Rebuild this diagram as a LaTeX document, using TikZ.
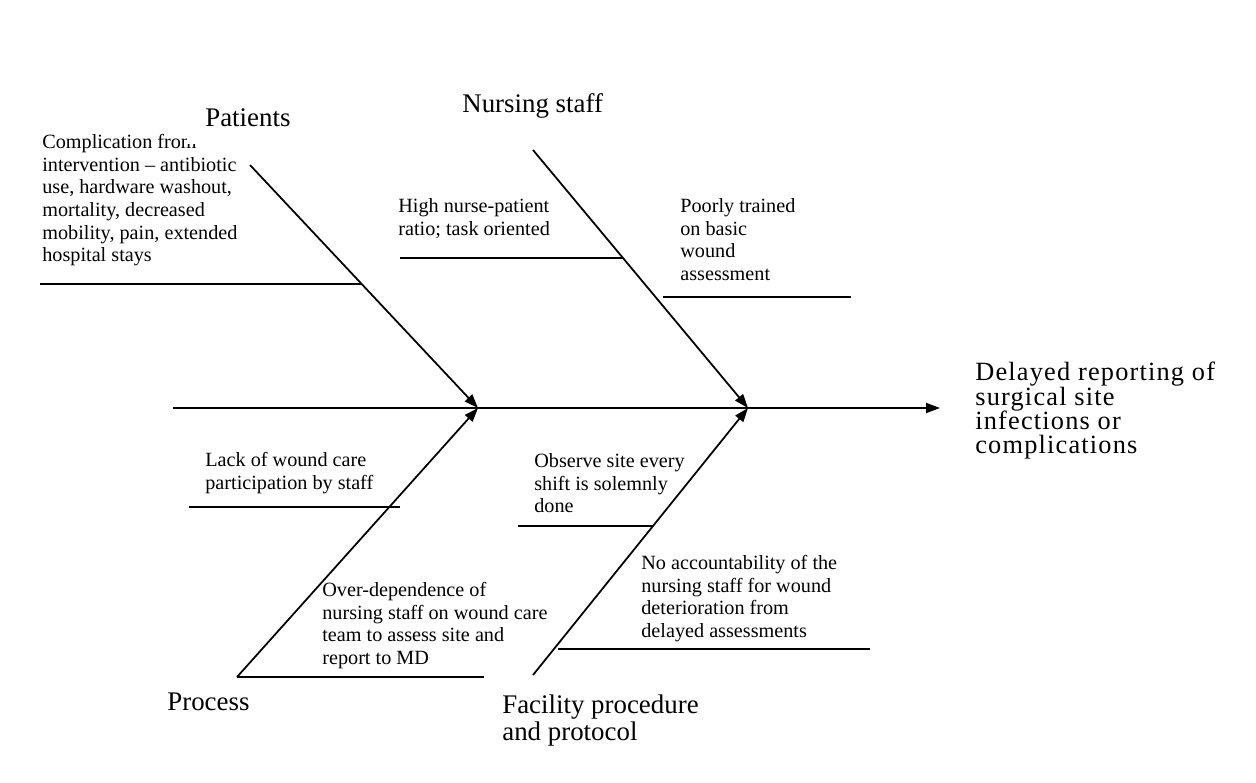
\documentclass[tikz,border=0pt]{standalone}
\usepackage{fontspec}
\setmainfont{Liberation Serif}
\newfontfamily\outcomefont{Liberation Serif}[LetterSpace=4.5]
\usetikzlibrary{arrows.meta}
\begin{document}
\begin{tikzpicture}
	[x=0.02cm,y=-0.02cm,
	cause/.style={anchor=north west,inner sep=0pt,align=left,font=\fontsize{11.5}{12.9}\selectfont},
	category/.style={anchor=north west,inner sep=0pt,align=left,font=\fontsize{15.3}{15.5}\selectfont},
	outcome/.style={anchor=north west,inner sep=0pt,align=left,font=\outcomefont\fontsize{15}{13.8}\selectfont},
	bone/.style={line width=1pt,-{Triangle[length=2.8mm,width=2mm]}},
	twig/.style={line width=1pt}]
	\useasboundingbox (0,0) rectangle (1256,783);
	% spine and joints
	\path coordinate (tail) at (173,408)
		  coordinate (head) at (940,408)
		  coordinate (jp) at (478,408)
		  coordinate (jn) at (748,408)
		  coordinate (patients bone) at (250,165)
		  coordinate (nursing bone) at (533,150)
		  coordinate (process bone) at (237,677)
		  coordinate (facility bone) at (533,675);
	% twig end points
	\path coordinate (t1a) at (40,284)  coordinate (t1b) at (362,284)
		  coordinate (t2a) at (400,258) coordinate (t2b) at (623,258)
		  coordinate (t3a) at (663,297) coordinate (t3b) at (851,297)
		  coordinate (t4a) at (189,507) coordinate (t4b) at (400,507)
		  coordinate (t5a) at (237,677) coordinate (t5b) at (484,677)
		  coordinate (t6a) at (518,526) coordinate (t6b) at (653,526)
		  coordinate (t7a) at (558,649) coordinate (t7b) at (870,649);
	% texts
	\path node (outcome) at (975,362) [outcome] {Delayed reporting of\\surgical site\\infections or\\complications}
		  node (complication) at (42,134) [cause] {Complication from\\intervention -- antibiotic\\use, hardware washout,\\mortality, decreased\\mobility, pain, extended\\hospital stays}
		  node (ratio) at (398,198) [cause] {High nurse-patient\\ratio; task oriented}
		  node (training) at (680,198) [cause] {Poorly trained\\on basic\\wound\\assessment}
		  node (participation) at (205,452) [cause] {Lack of wound care\\participation by staff}
		  node (dependence) at (322,582) [cause] {Over-dependence of\\nursing staff on wound care\\team to assess site and\\report to MD}
		  node (observe) at (534,453) [cause] {Observe site every\\shift is solemnly\\done}
		  node (accountability) at (641,555) [cause] {No accountability of the\\nursing staff for wound\\deterioration from\\delayed assessments}
		  node (patients) at (187,90) [category,fill=white,inner sep=0.36cm] {Patients}
		  node (nursing) at (462,93) [category] {Nursing staff}
		  node (process) at (167,693) [category] {Process}
		  node (facility) at (502,694) [category] {Facility procedure\\and protocol};
	% bones
	\draw[bone] (tail) -- (head);
	\draw[bone] (patients bone) -- (jp);
	\draw[bone] (process bone) -- (jp);
	\draw[bone] (nursing bone) -- (jn);
	\draw[bone] (facility bone) -- (jn);
	% twigs
	\draw[twig] (t1a) -- (t1b);
	\draw[twig] (t2a) -- (t2b);
	\draw[twig] (t3a) -- (t3b);
	\draw[twig] (t4a) -- (t4b);
	\draw[twig] (t5a) -- (t5b);
	\draw[twig] (t6a) -- (t6b);
	\draw[twig] (t7a) -- (t7b);
\end{tikzpicture}
\end{document}
